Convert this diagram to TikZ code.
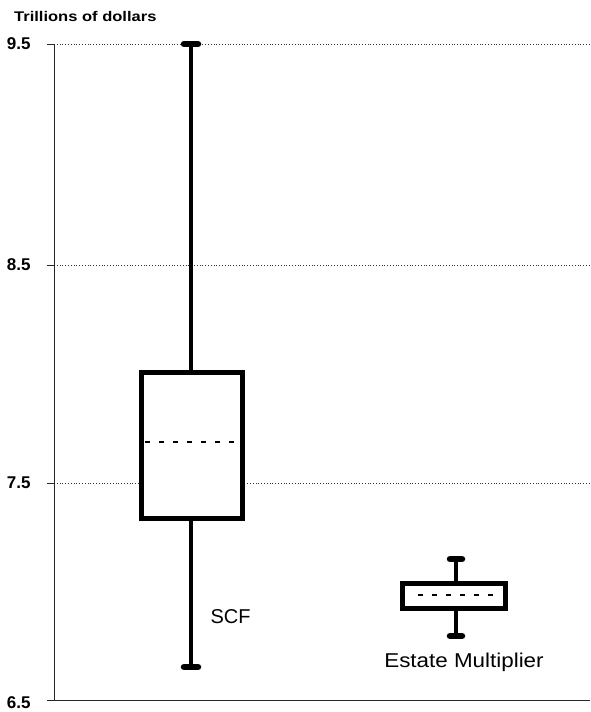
\documentclass[tikz,border=0pt]{standalone}
\usepackage{fontspec}
\setmainfont{Liberation Sans}
\begin{document}
\begin{tikzpicture}[x=1pt,y=-1pt,
  grid/.style={line width=0.8pt, dotted, black!80},
  axisline/.style={line width=0.8pt, black!85},
  boxst/.style={draw, line width=5pt, inner sep=0pt, fill=white},
  whisk/.style={line width=4.5pt},
  capst/.style={line width=6.5pt, line cap=round},
  med/.style={line width=2.8pt, dash pattern=on 5pt off 9pt},
  ticklab/.style={anchor=east, font=\bfseries\fontsize{17}{17}\selectfont},
  lab/.style={font=\fontsize{20}{20}\selectfont}
]
\useasboundingbox (0,0) rectangle (590,712);
% grid lines
\foreach \yy/\t in {44/9.5, 265/8.5, 483/7.5} {
  \draw[grid] (54,\yy) -- (590,\yy);
  \draw[axisline] (47,\yy) -- (54,\yy);
  \node[ticklab] (t\t) at (34,\yy) {\t};
}
\draw[axisline] (47,700) -- (590,700);
\node[ticklab] (t65) at (34,703) {6.5};
\draw[axisline] (54,44) -- (54,700);
\node[anchor=west, font=\bfseries\fontsize{14}{14}\selectfont, xscale=1.18] (title) at (10,16) {Trillions of dollars};

% SCF
\coordinate (scftop) at (191,44);
\coordinate (scfbot) at (191,667);
\node[boxst, minimum width=101pt, minimum height=146pt] (scfbox) at (191.5,445) {};
\draw[whisk] (scftop |- scfbox.north) -- (scftop);
\draw[whisk] (scfbot |- scfbox.south) -- (scfbot);
\draw[capst] ([xshift=-7pt]scftop) -- ([xshift=7pt]scftop);
\draw[capst] ([xshift=-7pt]scfbot) -- ([xshift=7pt]scfbot);
\draw[med] (145,442) -- (240,442);
\node[lab, anchor=west] (scflab) at (207,617) {SCF};

% Estate Multiplier
\coordinate (emtop) at (456,559);
\coordinate (embot) at (456,636);
\node[boxst, minimum width=103pt, minimum height=25pt] (embox) at (454,596) {};
\draw[whisk] (emtop |- embox.north) -- (emtop);
\draw[whisk] (embot |- embox.south) -- (embot);
\draw[capst] ([xshift=-6pt]emtop) -- ([xshift=6pt]emtop);
\draw[capst] ([xshift=-6pt]embot) -- ([xshift=6pt]embot);
\draw[med] (418,595) -- (500,595);
\node[lab, xscale=1.12] (emlab) at (464,662) {Estate Multiplier};
\end{tikzpicture}
\end{document}
